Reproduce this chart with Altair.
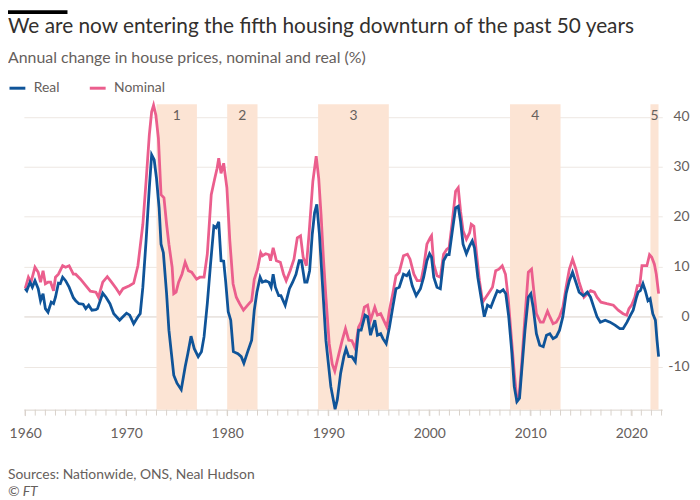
import altair as alt
import pandas as pd

# ---------------- data ----------------
real_year = [1960.0, 1960.16, 1960.48, 1960.71, 1960.97, 1961.29, 1961.52, 1961.77, 1962.0, 1962.26,
             1962.58, 1962.81, 1963.0, 1963.29, 1963.48, 1963.71, 1964.0, 1964.35, 1964.77, 1965.0,
             1965.32, 1965.74, 1966.0, 1966.29, 1966.61, 1967.0, 1967.16, 1967.68, 1968.0, 1968.39,
             1968.77, 1969.35, 1969.68, 1970.03, 1970.35, 1970.74, 1971.16, 1971.39, 1971.65, 1971.97,
             1972.29, 1972.52, 1972.77, 1973.0, 1973.26, 1973.45, 1973.68, 1974.0, 1974.23, 1974.48,
             1974.71, 1975.03, 1975.45, 1975.84, 1976.1, 1976.42, 1976.74, 1977.13, 1977.45, 1977.71,
             1978.03, 1978.35, 1978.68, 1978.9, 1979.16, 1979.39, 1979.65, 1979.85, 1980.1, 1980.35,
             1980.61, 1981.06, 1981.39, 1981.65, 1982.03, 1982.42, 1982.68, 1982.94, 1983.26, 1983.48,
             1983.81, 1984.13, 1984.35, 1984.55, 1984.77, 1985.1, 1985.32, 1985.74, 1986.16, 1986.48,
             1986.81, 1987.13, 1987.35, 1987.68, 1987.9, 1988.16, 1988.42, 1988.65, 1988.87, 1989.13,
             1989.45, 1989.77, 1990.26, 1990.68, 1990.9, 1991.23, 1991.55, 1991.77, 1992.03, 1992.35,
             1992.68, 1993.0, 1993.26, 1993.65, 1993.9, 1994.19, 1994.61, 1994.87, 1995.19, 1995.42,
             1995.74, 1996.06, 1996.39, 1996.71, 1997.03, 1997.45, 1997.77, 1998.0, 1998.32, 1998.71,
             1999.13, 1999.45, 1999.77, 2000.03, 2000.23, 2000.45, 2000.77, 2001.1, 2001.42, 2001.74,
             2001.97, 2002.29, 2002.61, 2002.87, 2003.1, 2003.35, 2003.68, 2004.0, 2004.26, 2004.48,
             2004.81, 2005.13, 2005.45, 2005.77, 2006.1, 2006.42, 2006.74, 2007.0, 2007.32, 2007.58,
             2007.87, 2008.19, 2008.42, 2008.68, 2008.94, 2009.16, 2009.48, 2009.81, 2010.06, 2010.29,
             2010.61, 2010.94, 2011.29, 2011.61, 2011.94, 2012.26, 2012.58, 2012.9, 2013.23, 2013.55,
             2013.87, 2014.19, 2014.52, 2014.84, 2015.26, 2015.65, 2015.97, 2016.29, 2016.61, 2016.94,
             2017.42, 2017.9, 2018.39, 2018.87, 2019.19, 2019.58, 2019.9, 2020.19, 2020.52, 2020.68,
             2020.9, 2021.16, 2021.39, 2021.65, 2021.87, 2022.13, 2022.39, 2022.55, 2022.71]
real_value = [5.6, 5.2, 6.9, 5.9, 7.2, 5.6, 3.2, 4.6, 1.6, 0.9,
              2.9, 2.6, 3.9, 6.7, 6.6, 7.9, 7.2, 5.9, 3.8, 3.2,
              2.6, 2.5, 1.6, 2.3, 1.3, 1.4, 1.6, 4.7, 3.9, 2.6,
              0.6, -0.7, 0.0, 0.7, 0.3, -1.4, 0.0, 0.6, 5.9, 15.2,
              25.8, 32.4, 31.4, 27.7, 21.8, 14.5, 12.8, 4.6, -2.7, -7.4,
              -11.7, -13.3, -14.6, -10.0, -7.4, -3.9, -6.4, -8.0, -7.0, -4.0,
              2.6, 10.5, 18.1, 17.8, 19.0, 11.2, 11.1, 7.0, 1.0, -0.7,
              -7.0, -7.4, -8.0, -9.3, -7.0, -4.7, 1.3, 4.9, 7.9, 6.9,
              7.2, 6.9, 5.9, 8.5, 5.9, 4.2, 4.2, 2.3, 5.6, 6.9,
              8.5, 11.2, 11.2, 6.9, 6.9, 9.2, 16.5, 20.8, 22.5, 16.5,
              5.9, -4.7, -14.0, -18.5, -16.6, -11.3, -8.0, -6.4, -8.0, -8.0,
              -9.0, -2.7, -2.7, 0.3, 0.0, -3.7, -0.7, -3.7, -3.4, -4.4,
              -5.4, -2.1, 1.9, 5.6, 5.9, 8.5, 8.2, 8.9, 6.2, 4.2,
              5.6, 7.9, 11.2, 12.6, 11.9, 7.9, 5.9, 5.6, 11.2, 12.4,
              12.4, 17.2, 21.8, 22.1, 19.1, 14.5, 12.6, 14.2, 15.2, 13.8,
              7.9, 3.9, 0.0, 2.3, 1.9, 3.6, 5.2, 4.9, 5.4, 4.6,
              0.0, -7.4, -14.0, -17.0, -16.3, -10.7, -2.7, 3.9, 4.6, 1.9,
              -3.4, -5.7, -6.0, -3.7, -3.4, -4.4, -4.0, -2.7, 0.0, 4.6,
              7.2, 8.9, 6.9, 4.9, 4.2, 4.9, 3.9, 1.9, 0.0, -1.1,
              -0.7, -1.1, -1.7, -2.4, -2.4, -1.1, 0.2, 1.3, 3.9, 4.9,
              5.2, 6.6, 5.2, 3.2, 3.6, 0.6, -0.7, -4.7, -8.0]

nominal_year = [1960.0, 1960.32, 1960.58, 1960.97, 1961.29, 1961.52, 1961.77, 1962.0, 1962.26, 1962.52,
                1962.81, 1963.0, 1963.29, 1963.71, 1964.0, 1964.35, 1964.77, 1965.0, 1965.48, 1966.0,
                1966.45, 1967.0, 1967.26, 1967.68, 1968.13, 1968.55, 1969.03, 1969.35, 1969.68, 1970.32,
                1970.74, 1971.16, 1971.65, 1971.97, 1972.29, 1972.52, 1972.71, 1972.94, 1973.19, 1973.45,
                1973.74, 1974.0, 1974.23, 1974.55, 1974.71, 1974.94, 1975.19, 1975.52, 1975.84, 1976.16,
                1976.48, 1976.97, 1977.29, 1977.71, 1978.03, 1978.42, 1978.74, 1979.0, 1979.16, 1979.39,
                1979.65, 1979.97, 1980.26, 1980.58, 1980.9, 1981.23, 1981.61, 1982.03, 1982.42, 1982.68,
                1983.0, 1983.32, 1983.48, 1983.81, 1984.13, 1984.29, 1984.55, 1984.87, 1985.26, 1985.58,
                1985.84, 1986.23, 1986.61, 1986.94, 1987.26, 1987.52, 1987.84, 1988.1, 1988.48, 1988.81,
                1989.06, 1989.29, 1989.52, 1989.77, 1990.1, 1990.4, 1990.65, 1991.06, 1991.39, 1991.71,
                1992.03, 1992.35, 1992.68, 1993.0, 1993.26, 1993.58, 1993.9, 1994.19, 1994.61, 1994.87,
                1995.19, 1995.58, 1995.81, 1996.06, 1996.39, 1996.71, 1997.03, 1997.45, 1997.84, 1998.1,
                1998.48, 1998.81, 1999.19, 1999.45, 1999.77, 2000.1, 2000.23, 2000.45, 2000.77, 2001.1,
                2001.42, 2001.74, 2001.97, 2002.29, 2002.61, 2002.87, 2003.1, 2003.35, 2003.68, 2004.0,
                2004.16, 2004.42, 2004.65, 2004.97, 2005.29, 2005.61, 2005.94, 2006.26, 2006.58, 2006.9,
                2007.23, 2007.55, 2007.81, 2008.1, 2008.42, 2008.68, 2008.9, 2009.16, 2009.48, 2009.81,
                2010.13, 2010.35, 2010.61, 2011.0, 2011.29, 2011.71, 2011.94, 2012.26, 2012.58, 2012.9,
                2013.23, 2013.55, 2013.87, 2014.19, 2014.52, 2014.84, 2015.32, 2015.65, 2015.97, 2016.35,
                2016.61, 2017.0, 2017.58, 2018.23, 2018.71, 2019.19, 2019.55, 2019.77, 2020.03, 2020.35,
                2020.61, 2020.84, 2021.06, 2021.32, 2021.55, 2021.81, 2022.03, 2022.29, 2022.48, 2022.71]
nominal_value = [5.6, 7.9, 6.9, 9.9, 8.9, 6.9, 9.2, 6.6, 6.9, 6.9,
                 5.2, 7.9, 8.5, 10.2, 9.9, 10.2, 8.5, 8.5, 7.5, 6.2,
                 5.1, 4.9, 3.9, 6.9, 8.0, 6.9, 5.6, 4.6, 5.6, 6.2,
                 6.7, 10.2, 18.5, 27.1, 36.4, 41.0, 42.3, 40.3, 35.7, 24.4,
                 23.8, 18.5, 14.5, 9.9, 4.6, 4.9, 6.9, 8.5, 10.9, 9.2,
                 8.9, 7.5, 7.9, 7.9, 12.5, 24.4, 27.4, 29.7, 31.7, 28.7,
                 30.7, 25.8, 15.2, 6.6, 3.9, 2.6, 1.3, 2.3, 3.2, 7.5,
                 9.5, 12.8, 12.2, 12.6, 12.4, 11.2, 13.8, 11.2, 10.9, 8.5,
                 7.2, 9.2, 11.5, 15.8, 16.2, 11.9, 10.2, 16.5, 27.1, 32.1,
                 27.7, 20.5, 11.9, 3.9, -5.4, -9.5, -10.9, -7.4, -4.7, -2.4,
                 -4.7, -4.8, -6.4, -2.1, -1.1, 1.9, 2.3, -0.7, 1.9, 0.3,
                 0.6, -1.1, -2.1, 1.3, 4.6, 8.2, 8.9, 12.2, 12.5, 11.5,
                 8.5, 7.2, 7.2, 9.9, 14.5, 15.8, 16.2, 10.5, 8.2, 7.9,
                 12.5, 13.5, 13.8, 19.1, 25.1, 25.8, 21.1, 17.2, 15.5, 16.8,
                 18.5, 18.1, 13.2, 7.2, 2.9, 3.9, 4.9, 5.9, 9.2, 9.5,
                 10.2, 8.5, 3.9, -3.4, -11.3, -16.6, -15.9, -9.3, 0.0, 8.9,
                 9.5, 5.2, 0.6, -1.1, -1.1, 1.1, 0.0, -1.4, -1.1, 0.0,
                 1.9, 5.9, 9.5, 11.5, 9.5, 6.9, 3.9, 4.6, 5.2, 4.9,
                 3.9, 2.9, 2.6, 2.3, 1.3, 0.6, 0.3, 1.6, 2.3, 3.9,
                 6.2, 6.2, 10.2, 10.2, 10.2, 12.4, 11.9, 10.5, 8.5, 4.6]

downturn_label = ["1", "2", "3", "4", "5"]
downturn_start = [1973.0, 1980.0, 1989.0, 2008.0, 2021.9]
downturn_end = [1977.0, 1983.0, 1996.0, 2013.0, 2022.7]

y_ticks = [-10, 0, 10, 20, 30, 40]
x_labels = [1960, 1970, 1980, 1990, 2000, 2010, 2020]
x_minor = list(range(1960, 2024))

title_text = "We are now entering the fifth housing downturn of the past 50 years"
subtitle_text = "Annual change in house prices, nominal and real (%)"
source_text = "Sources: Nationwide, ONS, Neal Hudson"
copyright_text = "\u00a9 FT"

# ---------------- tables ----------------
real_df = pd.DataFrame({"year": real_year, "value": real_value, "series": "Real"})
nom_df = pd.DataFrame({"year": nominal_year, "value": nominal_value, "series": "Nominal"})
reg_df = pd.DataFrame({"label": downturn_label, "start": downturn_start, "end": downturn_end})
tick_df = pd.DataFrame({"yr": x_minor})

W, H = 644, 308
LEFT = 16
FONT = "Lato"
GREY = "#66605c"
BLUE = "#0f5499"
PINK = "#eb5e8d"
TICK = "#d9d1ca"

xscale = alt.Scale(domain=[1959.87, 2023.07], nice=False, zero=False)
yscale = alt.Scale(domain=[-18.6, 42.5], nice=False, zero=False)

color = alt.Color(
    "series:N",
    scale=alt.Scale(domain=["Real", "Nominal"], range=[BLUE, PINK]),
    legend=alt.Legend(
        title=None, orient="none", legendX=-LEFT, legendY=-26, direction="horizontal",
        symbolType="stroke", symbolSize=256, symbolStrokeWidth=3,
        labelFont=FONT, labelFontSize=14, labelColor=GREY, labelOffset=7,
        columnPadding=24, padding=0,
    ),
)

x_axis = alt.Axis(
    values=x_labels, format="d", labelOverlap=False, labelFlush=False,
    tickSize=6, tickColor=TICK, domainColor=TICK, grid=False,
    labelFont=FONT, labelFontSize=14, labelColor=GREY, labelPadding=11, title=None,
)
y_axis = alt.Axis(
    orient="right", values=y_ticks, ticks=False, domain=False,
    labelAlign="right", labelPadding=27, labelExpr="'' + datum.value",
    labelFont=FONT, labelFontSize=14, labelColor=GREY, title=None,
    gridColor={"condition": {"test": "datum.value === 0", "value": "#d9d0c9"}, "value": "#ede7e2"},
)

shade = alt.Chart(reg_df).mark_rect(color="#fce4d4").encode(
    x=alt.X("start:Q", scale=xscale, axis=x_axis),
    x2="end:Q",
    y=alt.value(0),
    y2=alt.value(H),
)

minor_ticks = alt.Chart(tick_df).mark_rule(color=TICK, strokeWidth=1).encode(
    x=alt.X("yr:Q", scale=xscale, axis=x_axis),
    y=alt.value(H),
    y2=alt.value(H + 6),
)

reg_text = alt.Chart(reg_df).transform_calculate(
    mid="(datum.start + datum.end) / 2"
).mark_text(font=FONT, fontSize=14, color=GREY, baseline="middle", align="center").encode(
    x=alt.X("mid:Q", scale=xscale, axis=x_axis),
    y=alt.value(12),
    text="label:N",
)

nom_line = alt.Chart(nom_df).mark_line(strokeWidth=2.8).encode(
    x=alt.X("year:Q", scale=xscale, axis=x_axis),
    y=alt.Y("value:Q", scale=yscale, axis=y_axis),
    color=color,
)

real_line = alt.Chart(real_df).mark_line(strokeWidth=2.8).encode(
    x=alt.X("year:Q", scale=xscale, axis=x_axis),
    y=alt.Y("value:Q", scale=yscale, axis=y_axis),
    color=color,
)


def text_layer(txt, y, size, col, style="normal"):
    return alt.Chart(pd.DataFrame({"t": [txt]})).mark_text(
        font=FONT, fontSize=size, color=col, align="left", baseline="alphabetic",
        fontStyle=style,
    ).encode(x=alt.value(-LEFT), y=alt.value(y), text="t:N")


bar = alt.Chart(pd.DataFrame({"t": [1]})).mark_rect(color="#000000").encode(
    x=alt.value(-LEFT), x2=alt.value(-LEFT + 60), y=alt.value(-95), y2=alt.value(-91)
)

chart = alt.layer(
    shade,
    minor_ticks,
    nom_line,
    real_line,
    reg_text,
    bar,
    text_layer(title_text, -71.5, 21, "#33302e"),
    text_layer(subtitle_text, -41.5, 16, GREY),
    text_layer(source_text, 378, 14, GREY),
    text_layer(copyright_text, 395, 14, GREY, "italic"),
).properties(
    width=W, height=H,
    autosize=alt.AutoSizeParams(type="none"),
    padding={"left": LEFT, "top": 95, "right": 30, "bottom": 89},
).configure(font=FONT).configure_view(stroke=None)

chart.save("out.html", embed_options={"renderer": "svg", "actions": False})
